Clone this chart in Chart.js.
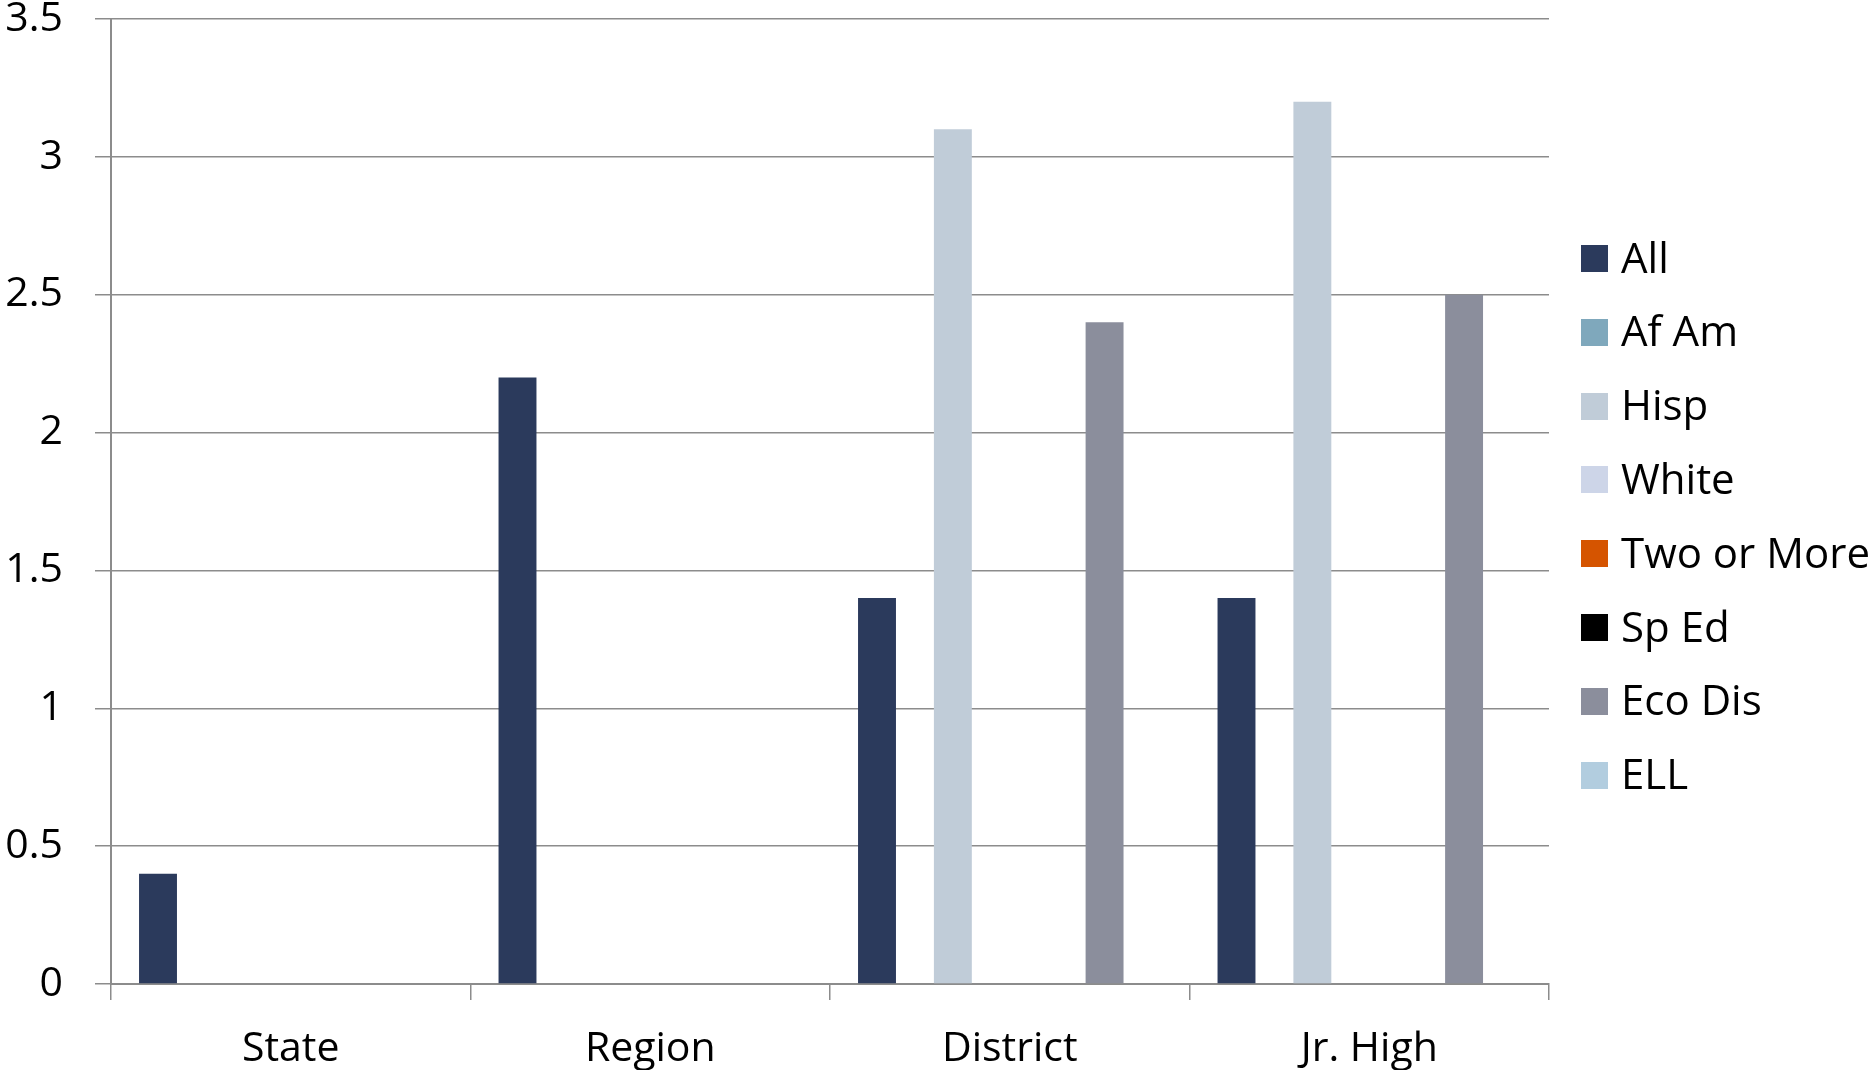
<!DOCTYPE html>
<html>
<head>
<meta charset="utf-8">
<script src="https://cdn.jsdelivr.net/npm/chart.js@4.4.1/dist/chart.umd.min.js"></script>
<style>
  html, body { margin: 0; padding: 0; background: #fff; }
  #wrap { position: relative; width: 1873px; height: 1070px; overflow: hidden; }
  #legenda { position: absolute; left: 0; top: 0; }
  .item { position: absolute; left: 1581px; height: 50px; display: flex; align-items: center; white-space: nowrap; }
  .caixa { width: 27px; height: 27px; margin-right: 13px; }
  .texto { font-family: 'Open Sans', sans-serif; font-size: 42px; line-height: 50px; color: #000; position: relative; top: -2px; }
</style>
</head>
<body>
<div id="wrap">
  <canvas id="grafico" width="1873" height="1070"></canvas>
  <div id="legenda"></div>
</div>
<script>
const categorias = ['State', 'Region', 'District', 'Jr. High']

const grupos = ['All', 'Af Am', 'Hisp', 'White', 'Two or More', 'Sp Ed', 'Eco Dis', 'ELL']
const cores = ['#2B3A5C', '#7FA8BC', '#C0CCD8', '#CDD5E8', '#D55400', '#000000', '#8B8E9C', '#B2CDDF']

const valoresAll = [0.4, 2.2, 1.4, 1.4]
const valoresAfAm = [null, null, null, null]
const valoresHisp = [null, null, 3.1, 3.2]
const valoresWhite = [null, null, null, null]
const valoresTwoOrMore = [null, null, null, null]
const valoresSpEd = [null, null, null, null]
const valoresEcoDis = [null, null, 2.4, 2.5]
const valoresEll = [null, null, null, null]

const yTicks = [0, 0.5, 1, 1.5, 2, 2.5, 3, 3.5]

const series = [valoresAll, valoresAfAm, valoresHisp, valoresWhite, valoresTwoOrMore, valoresSpEd, valoresEcoDis, valoresEll]

const corGrade = '#8C8C8C'
const fonte = { family: "'Open Sans', sans-serif", size: 41 }

var ctx = document.getElementById('grafico')

var grafico = new Chart(ctx, {
  type: 'bar',
  data: {
    labels: categorias,
    datasets: grupos.map((g, i) => ({
      label: g,
      data: series[i],
      backgroundColor: cores[i],
      borderWidth: 0,
      categoryPercentage: 0.844,
      barPercentage: 1.0
    }))
  },
  options: {
    responsive: false,
    animation: false,
    devicePixelRatio: 1,
    layout: { padding: { top: 19, right: 324, left: 0, bottom: 0 } },
    plugins: {
      legend: { display: false },
      tooltip: { enabled: false }
    },
    scales: {
      x: {
        grid: {
          display: true,
          offset: true,
          drawOnChartArea: false,
          drawTicks: true,
          tickLength: 16,
          color: corGrade,
          lineWidth: 1.5
        },
        border: { display: true, color: corGrade, width: 2 },
        ticks: { color: '#000', font: fonte, padding: 25, maxRotation: 0 },
        afterFit: (scale) => {
          scale.height = 86
          scale.paddingLeft = 0
          scale.paddingRight = 0
        }
      },
      y: {
        min: yTicks[0],
        max: yTicks[yTicks.length - 1],
        afterBuildTicks: (scale) => {
          scale.ticks = yTicks.map(v => ({ value: v }))
        },
        grid: {
          color: corGrade,
          lineWidth: 1.5,
          drawTicks: true,
          tickLength: 16
        },
        border: { display: true, color: corGrade, width: 2 },
        ticks: { color: '#000', font: fonte, padding: 32, callback: (v) => String(v) },
        afterFit: (scale) => {
          scale.width = 111
          scale.paddingTop = 0
          scale.paddingBottom = 0
        }
      }
    }
  }
})

// Legenda montada a partir dos mesmos arrays
const legenda = document.getElementById('legenda')
grupos.forEach((g, i) => {
  const centro = 258.5 + i * 73.8
  legenda.innerHTML += `
    <div class="item" style="top:${centro - 25}px">
      <div class="caixa" style="background:${cores[i]}"></div>
      <span class="texto">${g}</span>
    </div>
  `
})
</script>
</body>
</html>
